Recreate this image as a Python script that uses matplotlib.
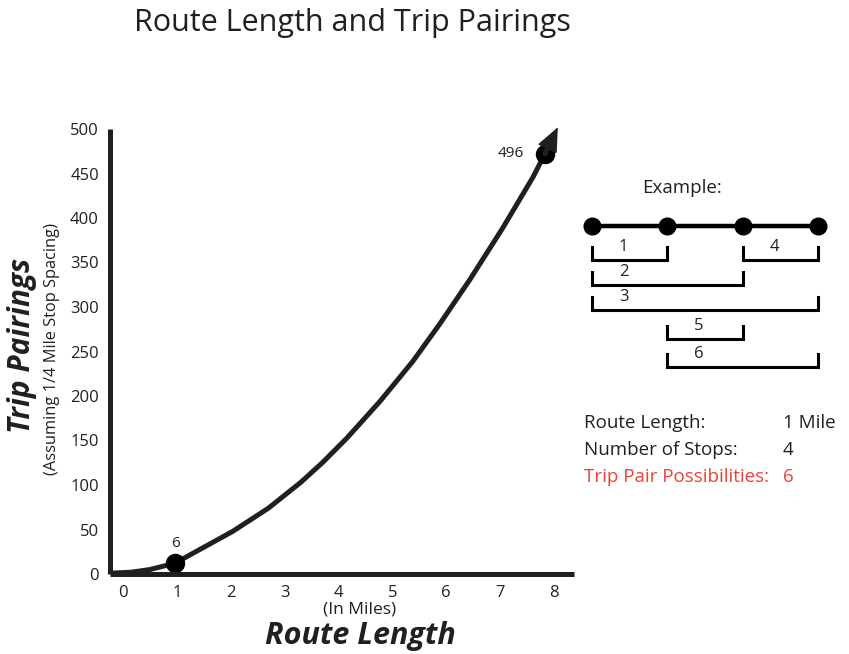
#!/usr/bin/env python3

import matplotlib
matplotlib.use('Agg')
import matplotlib.pyplot as plt

plt.rcParams['font.family'] = ['Open Sans', 'DejaVu Sans']

INK = '#231f20'
RED = '#ef4136'

# curve as drawn (route length in miles, trip pairings)
route_miles = [-0.19, 0.15, 0.5, 0.96, 1.5, 2.04, 2.7, 3.3, 3.7, 4.16, 4.77, 5.38, 5.88,
               6.44, 7.05, 7.61, 7.83]
pairings = [1, 2, 5, 12, 30, 48, 74, 103, 125, 153, 194, 239, 281, 331, 389, 446, 472]
arrow_tip = (8.07, 502)

# labelled points
point_miles = [0.97, 7.83]
point_pairs = [12, 472]
point_labels = ['6', '496']

x_ticks = [0, 1, 2, 3, 4, 5, 6, 7, 8]
y_ticks = [0, 50, 100, 150, 200, 250, 300, 350, 400, 450, 500]

# example: 4 stops on a 1 mile route, every pair of stops
stops = [0, 1, 2, 3]
pair_starts = [0, 2, 0, 0, 1, 1]
pair_ends = [1, 3, 2, 3, 2, 3]
pair_rows = [0, 0, 1, 2, 3, 4]
pair_names = ['1', '4', '2', '3', '5', '6']

info_keys = ['Route Length:', 'Number of Stops:', 'Trip Pair Possibilities:']
info_vals = ['1 Mile', '4', '6']
info_colors = [INK, INK, RED]


def main():
    fig = plt.figure(figsize=(8.49, 6.54), dpi=100)
    W, H = 849, 654

    ax = fig.add_axes([110 / W, 1 - 574 / H, 464 / W, 445 / H])
    ax.plot(route_miles, pairings, color=INK, lw=3.6, solid_capstyle='round',
            solid_joinstyle='round')
    start = (route_miles[-1], pairings[-1])
    # thick shaft, stopping short of the tip
    ax.annotate('', xy=arrow_tip, xytext=start, annotation_clip=False,
                arrowprops=dict(arrowstyle='-', lw=3.6, color=INK,
                                shrinkA=0, shrinkB=10))
    # arrow head
    ax.annotate('', xy=arrow_tip, xytext=start, annotation_clip=False,
                arrowprops=dict(arrowstyle='-|>,head_length=0.65,head_width=0.28',
                                mutation_scale=24, lw=1, color=INK,
                                shrinkA=0, shrinkB=0))
    ax.plot(point_miles, point_pairs, 'o', color='black', ms=13, clip_on=False)
    ax.annotate(point_labels[0], (point_miles[0], point_pairs[0]), xytext=(0, 9),
                textcoords='offset points', ha='center', va='bottom',
                fontsize=11, color=INK)
    ax.annotate(point_labels[1], (point_miles[1], point_pairs[1]), xytext=(-15, 0),
                textcoords='offset points', ha='right', va='center',
                fontsize=11, color=INK)

    ax.set_xlim(-0.24, 8.37)
    ax.set_ylim(0, 500)
    ax.set_xticks(x_ticks)
    ax.set_yticks(y_ticks)
    ax.tick_params(length=0, labelsize=12, colors=INK, pad=8)
    for s in ['top', 'right']:
        ax.spines[s].set_visible(False)
    for s in ['left', 'bottom']:
        ax.spines[s].set_linewidth(3.6)
        ax.spines[s].set_color(INK)
        ax.spines[s].set_capstyle('butt')

    fig.text(352 / W, 1 - 23 / H, 'Route Length and Trip Pairings',
             ha='center', va='center', fontsize=22, color=INK)
    fig.text(22 / W, 1 - 345 / H, 'Trip Pairings', rotation=90, ha='center',
             va='center', fontsize=21.5, fontweight='bold', fontstyle='italic', color=INK)
    fig.text(52 / W, 1 - 349 / H, '(Assuming 1/4 Mile Stop Spacing)', rotation=90,
             ha='center', va='center', fontsize=11.8, color=INK)
    fig.text(360 / W, 1 - 609 / H, '(In Miles)', ha='center', va='center',
             fontsize=12.5, color=INK)
    fig.text(360 / W, 1 - 636 / H, 'Route Length', ha='center', va='center',
             fontsize=22, fontweight='bold', fontstyle='italic', color=INK)

    # example diagram, x in stop index
    ex = fig.add_axes([560 / W, 1 - 500 / H, 289 / W, 330 / H])
    ex.set_xlim(-(592 - 560) / 75.33, (849 - 592) / 75.33)
    ex.set_ylim(500, 170)
    ex.axis('off')
    stop_y = 226
    ex.text(1.2, 188, 'Example:', ha='center', va='center', fontsize=13.5, color=INK)
    ex.plot([stops[0], stops[-1]], [stop_y, stop_y], color='black', lw=3.2)
    ex.plot(stops, [stop_y] * len(stops), 'o', color='black', ms=12)

    row_bottom = [260, 285, 310, 339, 367]
    for a, b, r, name in zip(pair_starts, pair_ends, pair_rows, pair_names):
        yb = row_bottom[r]
        ex.plot([a, a, b, b], [yb - 13, yb, yb, yb - 13], color='black', lw=2.2,
                solid_joinstyle='miter')
        ex.text(a + 0.42, yb - 13, name, ha='center', va='center', fontsize=12, color=INK)

    for i, (k, v, c) in enumerate(zip(info_keys, info_vals, info_colors)):
        fig.text(584 / W, 1 - (423 + 27 * i) / H, k, ha='left', va='center',
                 fontsize=13.5, color=c)
        fig.text(783 / W, 1 - (423 + 27 * i) / H, v, ha='left', va='center',
                 fontsize=13.5, color=c)

    fig.savefig('out.png', dpi=100)


if __name__ == "__main__":
    main()
